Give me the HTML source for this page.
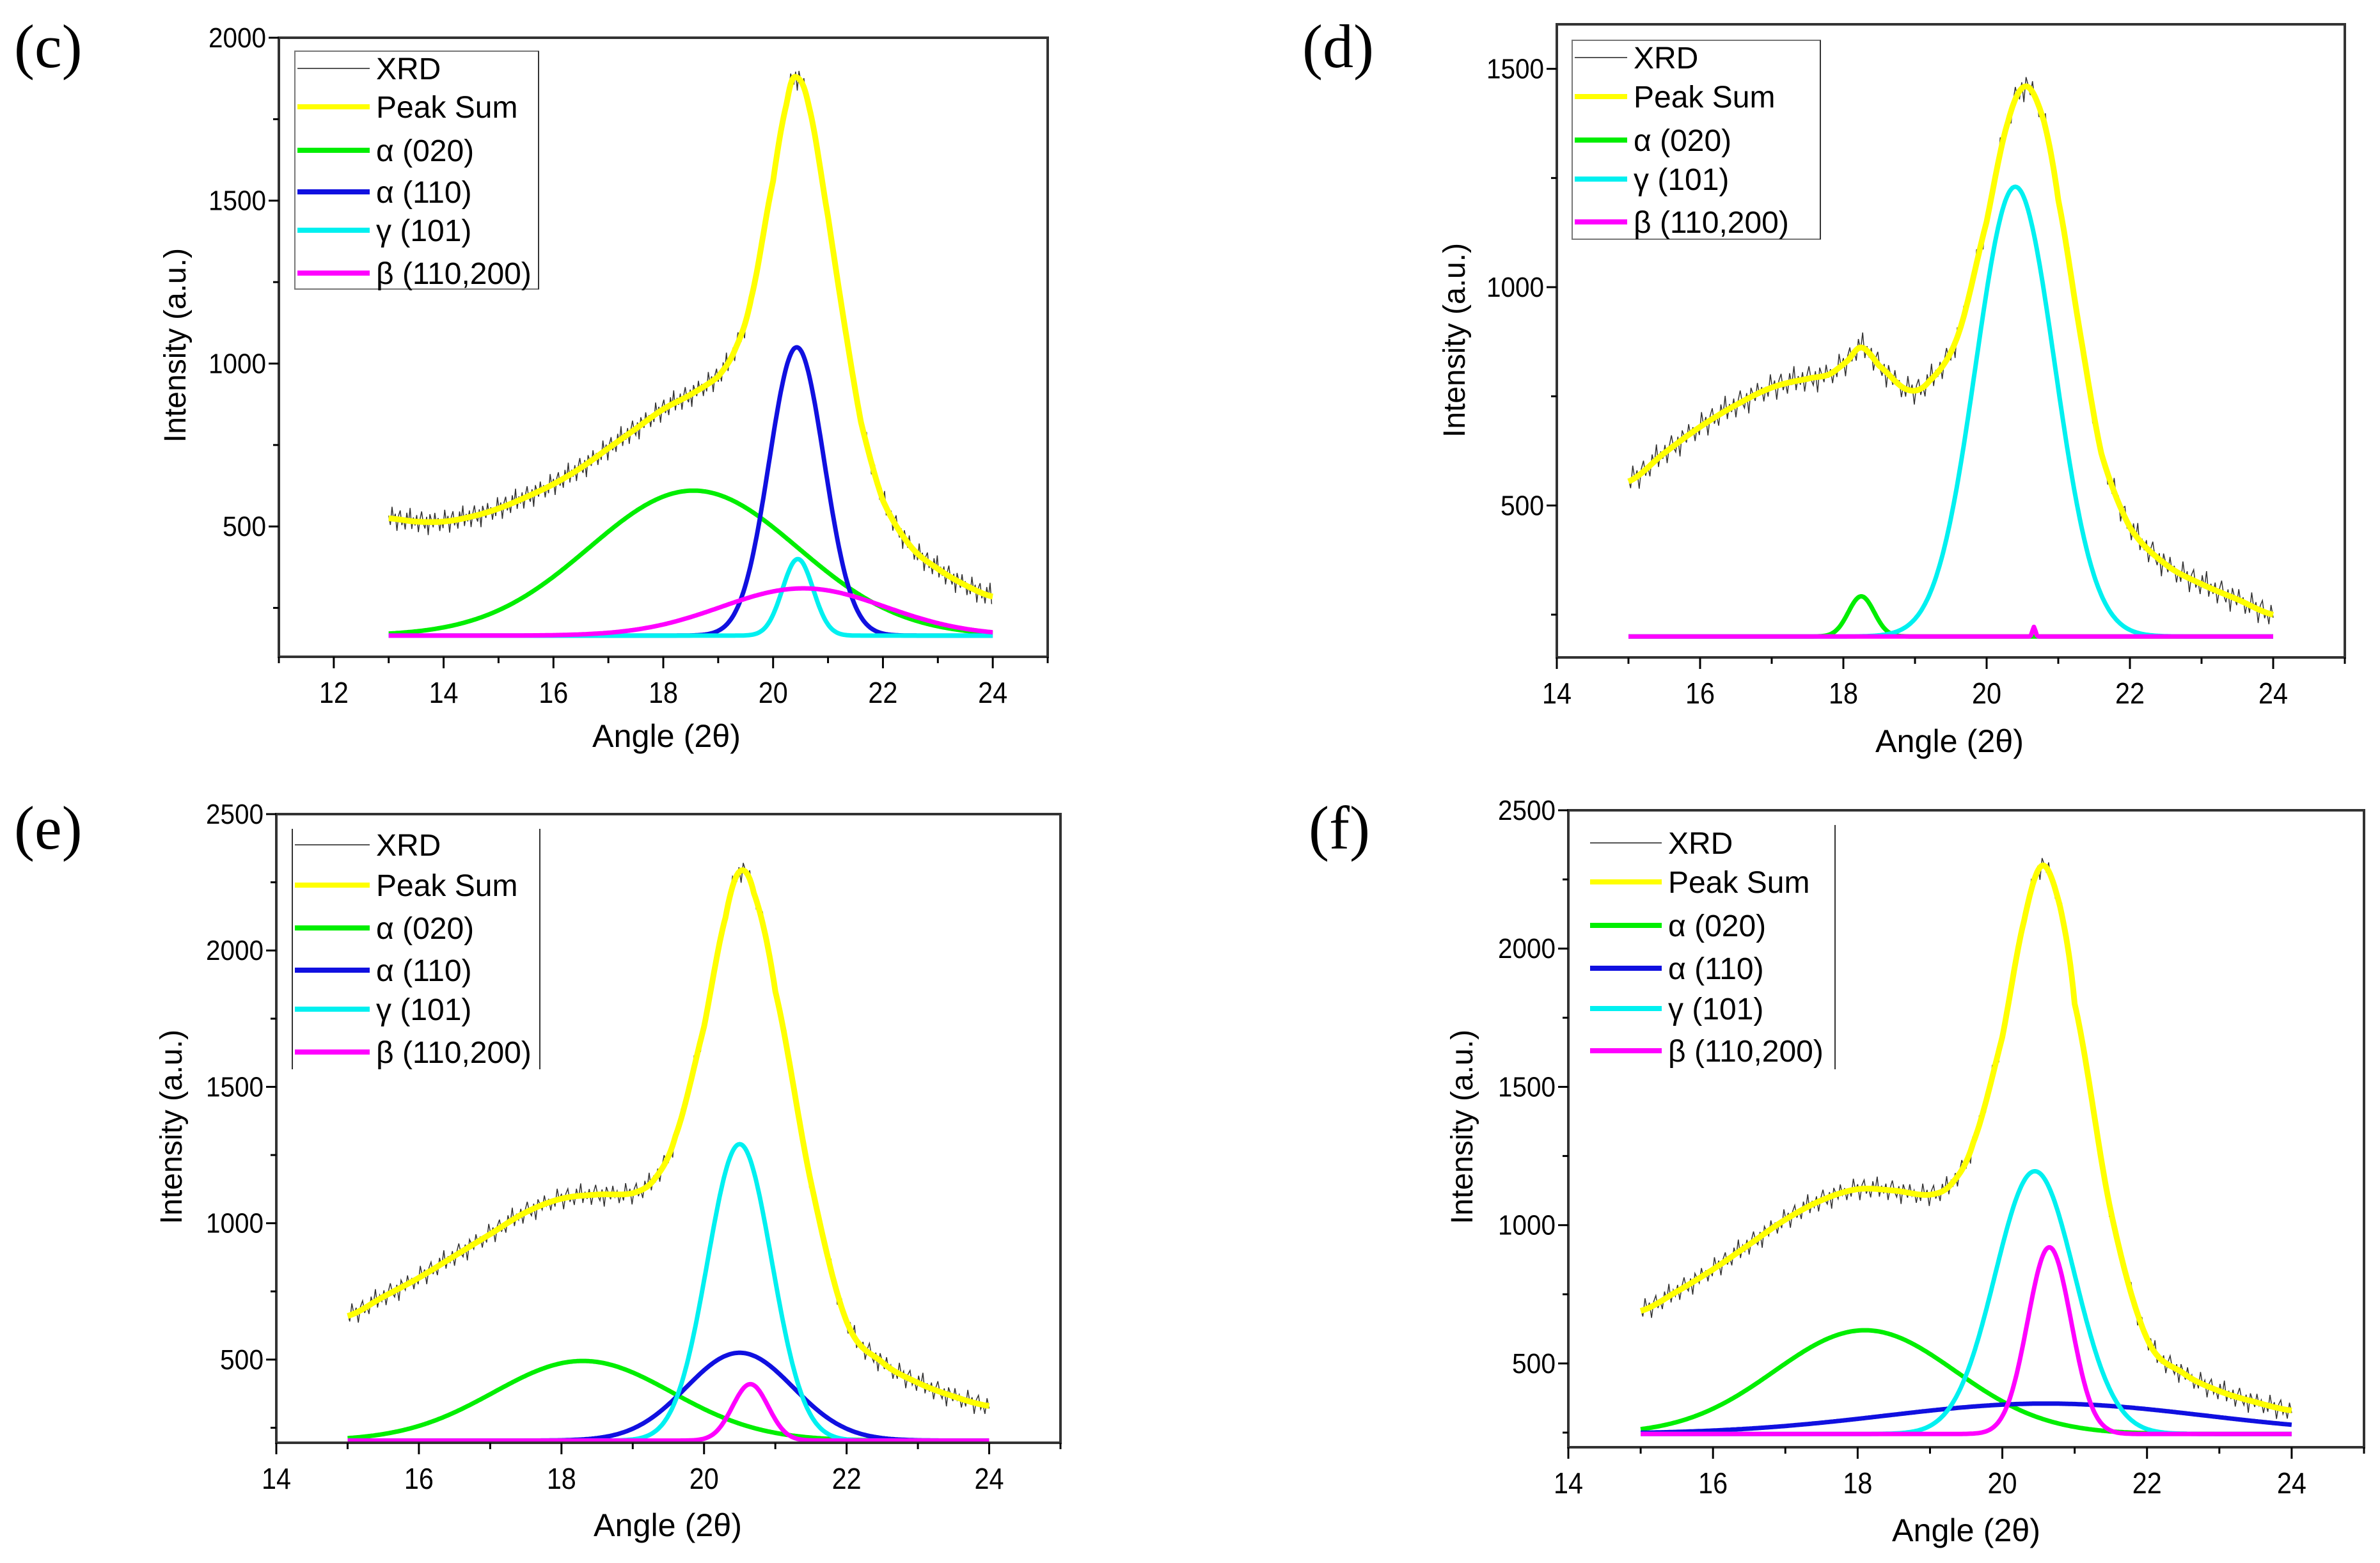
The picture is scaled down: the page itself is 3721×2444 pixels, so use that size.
<!DOCTYPE html>
<html><head><meta charset="utf-8"><style>
html,body{margin:0;padding:0;background:#fff;}
svg{display:block;font-family:"Liberation Sans",sans-serif;}
</style></head><body>
<svg id="fig" width="3721" height="2444" viewBox="0 0 3721 2444" xmlns="http://www.w3.org/2000/svg"></svg>
<script>
// ---------- Panel (c) data ----------
const c_sumX = [13,13.5,14,14.5,15,15.5,16,16.5,17,17.5,18,18.5,19,19.3,19.6,20,20.25,20.4,20.65,21,21.3,21.6,22,22.5,23,23.5,24];
const c_sumY = [525,515,515,530,555,590,630,680,740,800,860,905,960,1040,1200,1560,1800,1880,1790,1450,1120,820,580,440,370,320,285];
const c_peakNames = ["α (020)","α (110)","γ (101)","β (110,200)"];
const c_peakCenters = [18.55,20.43,20.45,20.55];
const c_peakHeights = [610,1050,400,310];
const c_peakWidths = [1.9,0.5,0.28,1.5];
const c_baseline = 165;
const c_xTicks = [12,14,16,18,20,22,24];
const c_yTicks = [500,1000,1500,2000];

// ---------- Panel (d) data ----------
const d_sumX = [15,15.5,16,16.5,17,17.5,17.8,18.05,18.25,18.5,18.9,19.2,19.6,20,20.3,20.55,20.8,21,21.3,21.6,22,22.5,23,23.5,24];
const d_sumY = [555,620,680,730,770,790,800,830,862,820,765,785,890,1150,1380,1460,1380,1200,900,620,450,365,320,285,250];
const d_peakNames = ["α (020)","γ (101)","β (110,200)"];
const d_peakCenters = [18.25,20.4,20.66];
const d_peakHeights = [292,1230,222];
const d_peakWidths = [0.18,0.55,0.02];
const d_baseline = 200;
const d_xTicks = [14,16,18,20,22,24];
const d_yTicks = [500,1000,1500];

// ---------- Panel (e) data ----------
const e_sumX = [15,15.5,16,16.5,17,17.5,18,18.5,19,19.3,19.6,20,20.3,20.5,20.7,21,21.5,22,22.5,23,23.5,24];
const e_sumY = [660,730,800,880,960,1040,1090,1105,1110,1160,1320,1720,2120,2290,2210,1850,1150,640,490,415,365,330];
const e_peakNames = ["α (020)","α (110)","γ (101)","β (110,200)"];
const e_peakCenters = [18.3,20.5,20.5,20.65];
const e_peakHeights = [495,525,1290,410];
const e_peakWidths = [1.25,0.75,0.45,0.25];
const e_baseline = 203;
const e_xTicks = [14,16,18,20,22,24];
const e_yTicks = [500,1000,1500,2000,2500];

// ---------- Panel (f) data ----------
const f_sumX = [15,15.5,16,16.5,17,17.5,18,18.5,19,19.3,19.6,20,20.3,20.55,20.8,21,21.5,22,22.5,23,23.5,24];
const f_sumY = [690,760,840,930,1020,1090,1130,1125,1110,1150,1300,1680,2100,2300,2150,1800,1050,590,465,400,360,330];
const f_peakNames = ["α (020)","α (110)","γ (101)","β (110,200)"];
const f_peakCenters = [18.1,20.6,20.45,20.65];
const f_peakHeights = [620,355,1195,920];
const f_peakWidths = [1.25,2.2,0.55,0.3];
const f_baseline = 245;
const f_xTicks = [14,16,18,20,22,24];
const f_yTicks = [500,1000,1500,2000,2500];

// fixed (non-random) noise pattern for the raw XRD trace, fraction of amplitude
const noisePattern = [0.2,-0.5,0.9,-0.1,0.4,-0.9,0.3,0.7,-0.4,0.1,-0.7,0.6,-0.2,1.0,-0.6,0.3,-0.3,0.5,-0.8,0.2,0.8,-0.1,-0.5,0.4,-1.0,0.6,0.1,-0.4,0.7,-0.2,0.3,-0.7];

const NS = "http://www.w3.org/2000/svg";
const svg = document.getElementById('fig');
function el(tag, attrs, parent){
  const e = document.createElementNS(NS, tag);
  for (const k in attrs) e.setAttribute(k, attrs[k]);
  (parent||svg).appendChild(e);
  return e;
}
function interp(xs, ys, x){
  if (x<=xs[0]) return ys[0];
  for (let i=0;i<xs.length-1;i++){
    if (x<=xs[i+1]){
      const x0=xs[i],x1=xs[i+1],t=(x-x0)/(x1-x0);
      const p0=ys[Math.max(0,i-1)],p1=ys[i],p2=ys[i+1],p3=ys[Math.min(ys.length-1,i+2)];
      const t2=t*t,t3=t2*t;
      return 0.5*((2*p1)+(-p0+p2)*t+(2*p0-5*p1+4*p2-p3)*t2+(-p0+3*p1-3*p2+p3)*t3);
    }
  }
  return ys[ys.length-1];
}
const colors = {"α (020)":"#00ee00","α (110)":"#1010e0","γ (101)":"#00f0f0","β (110,200)":"#ff00ff"};

function drawPanel(p){
  const g = el('g',{});
  
  
  const sx = v => p.L + (v-p.x0)/(p.x1-p.x0)*(p.R-p.L);
  const sy = v => p.B - (v-p.y0)/(p.y1-p.y0)*(p.B-p.T);

  const lab = el('text',{x:p.lx,y:p.ly,'font-family':'"Liberation Serif",serif','font-size':96,fill:'#000'},g);
  lab.textContent = '('+p.id+')';
  
  

  const xmin = p.sumX[0], xmax = p.sumX[p.sumX.length-1];
  // XRD raw (under the peak sum)
  let d=''; let i=0;
  for (let x=xmin; x<=xmax+1e-9; x+=0.03, i++){
    const v = interp(p.sumX,p.sumY,x) + noisePattern[i%noisePattern.length]*p.noise;
    d += (d?'L':'M')+sx(x).toFixed(1)+' '+sy(v).toFixed(1);
  }
  const xr = el('path',{d:d,fill:'none',stroke:'#333','stroke-width':1.5},g);
  
  
  // Peak sum
  d='';
  for (let x=xmin; x<=xmax+1e-9; x+=0.02){ d += (d?'L':'M')+sx(x).toFixed(1)+' '+sy(interp(p.sumX,p.sumY,x)).toFixed(1); }
  const ps = el('path',{d:d,fill:'none',stroke:'#ffff00','stroke-width':9,'stroke-linejoin':'round'},g);
  
  
  // components
  for (let k=0;k<p.names.length;k++){
    let dd='';
    for (let x=xmin; x<=xmax+1e-9; x+=0.02){
      const v = p.base + (p.heights[k]-p.base)*Math.exp(-Math.pow(x-p.centers[k],2)/(2*p.widths[k]*p.widths[k]));
      dd += (dd?'L':'M')+sx(x).toFixed(1)+' '+sy(v).toFixed(1);
    }
    const cp = el('path',{d:dd,fill:'none',stroke:colors[p.names[k]],'stroke-width':7,'stroke-linejoin':'round'},g);
    
    
  }
  // frame
  const fr = el('rect',{x:p.L,y:p.T,width:p.R-p.L,height:p.B-p.T,fill:'none',stroke:'#333','stroke-width':4},g);
  
  
  // x ticks
  for (let v=p.x0; v<=p.x1+1e-9; v+=1){
    const major = p.xTicks.indexOf(v)>=0;
    el('line',{x1:sx(v),x2:sx(v),y1:p.B,y2:p.B+(major?18:10),stroke:'#000','stroke-width':3},g);
  }
  for (const v of p.xTicks){
    const t = el('text',{x:sx(v),y:p.B+72,'font-size':46,'text-anchor':'middle',fill:'#000',textLength:46,lengthAdjust:'spacingAndGlyphs'},g);
    t.textContent = v;
    
    
  }
  // y ticks
  const ystep = p.yTicks[1]-p.yTicks[0];
  for (let v=p.yTicks[0]-ystep; v<=p.y1+1e-9; v+=ystep/2){
    if (v<p.y0) continue;
    const major = p.yTicks.indexOf(v)>=0;
    el('line',{x1:p.L,x2:p.L-(major?16:9),y1:sy(v),y2:sy(v),stroke:'#000','stroke-width':3},g);
  }
  for (const v of p.yTicks){
    const t = el('text',{x:p.L-20,y:sy(v)+15,'font-size':44,'text-anchor':'end',fill:'#000',textLength:v>=1000?90:68,lengthAdjust:'spacingAndGlyphs'},g);
    t.textContent = v;
    
    
  }
  // axis titles
  const xt = el('text',{x:p.xtx,y:p.xty,'font-size':50,'text-anchor':'middle',fill:'#000',textLength:232,lengthAdjust:'spacingAndGlyphs'},g);
  xt.textContent = 'Angle (2θ)';
  
  
  const yt = el('text',{x:0,y:0,'font-size':48,'text-anchor':'middle',fill:'#000',transform:'translate('+p.ytx+','+p.yty+') rotate(-90)'},g);
  yt.textContent = 'Intensity (a.u.)';
  
  
  // legend
  const lg = el('g',{},g);
  
  
  const lgL=p.leg[0], lgR=p.leg[1], lgT=p.leg[2], lgB=p.leg[3];
  if (p.legBox==='full') el('rect',{x:lgL,y:lgT,width:lgR-lgL,height:lgB-lgT,fill:'#fff',stroke:'#777','stroke-width':2},lg);
  if (p.legBox==='sides'){ el('line',{x1:lgL,x2:lgL,y1:lgT,y2:lgB,stroke:'#333','stroke-width':2},lg); }
  el('line',{x1:lgR,x2:lgR,y1:lgT,y2:lgB,stroke:'#333','stroke-width':2},lg);
  const entries = ['XRD','Peak Sum'].concat(p.names);
  entries.forEach((name,k)=>{
    const y = p.legY[k];
    const col = name==='XRD'?'#555':(name==='Peak Sum'?'#ffff00':colors[name]);
    el('line',{x1:lgL+4,x2:p.legLineEnd,y1:y,y2:y,stroke:col,'stroke-width':name==='XRD'?2:8},lg);
    const t = el('text',{x:p.legLineEnd+10,y:y+17,'font-size':48,fill:'#000'},lg);
    t.textContent = name;
    
    
  });
}

drawPanel({id:'c',L:436,R:1638,T:59,B:1027,x0:11,x1:25,y0:100,y1:2000,
  sumX:c_sumX,sumY:c_sumY,names:c_peakNames,centers:c_peakCenters,heights:c_peakHeights,widths:c_peakWidths,base:c_baseline,
  xTicks:c_xTicks,yTicks:c_yTicks,noise:40,lx:22,ly:105,xtx:1042,xty:1168,ytx:290,yty:540,
  leg:[461,842,80,452],legBox:'full',legY:[107,167,235,300,360,427],legLineEnd:578});
drawPanel({id:'d',L:2434,R:3666,T:38,B:1028,x0:14,x1:25,y0:152,y1:1602,
  sumX:d_sumX,sumY:d_sumY,names:d_peakNames,centers:d_peakCenters,heights:d_peakHeights,widths:d_peakWidths,base:d_baseline,
  xTicks:d_xTicks,yTicks:d_yTicks,noise:35,lx:2036,ly:105,xtx:3048,xty:1176,ytx:2290,yty:532,
  leg:[2458,2846,63,374],legBox:'full',legY:[90,151,219,280,347],legLineEnd:2544});
drawPanel({id:'e',L:432,R:1658,T:1273,B:2256,x0:14,x1:25,y0:195,y1:2500,
  sumX:e_sumX,sumY:e_sumY,names:e_peakNames,centers:e_peakCenters,heights:e_peakHeights,widths:e_peakWidths,base:e_baseline,
  xTicks:e_xTicks,yTicks:e_yTicks,noise:45,lx:22,ly:1327,xtx:1044,xty:2402,ytx:284,yty:1762,
  leg:[457,844,1296,1672],legBox:'sides',legY:[1321,1384,1451,1517,1578,1645],legLineEnd:578});
drawPanel({id:'f',L:2452,R:3696,T:1267,B:2263,x0:14,x1:25,y0:197,y1:2500,
  sumX:f_sumX,sumY:f_sumY,names:f_peakNames,centers:f_peakCenters,heights:f_peakHeights,widths:f_peakWidths,base:f_baseline,
  xTicks:f_xTicks,yTicks:f_yTicks,noise:45,lx:2046,ly:1327,xtx:3074,xty:2410,ytx:2302,yty:1762,
  leg:[2482,2869,1290,1672],legBox:'right',legY:[1318,1379,1447,1514,1577,1643],legLineEnd:2598});
</script>
</body></html>
